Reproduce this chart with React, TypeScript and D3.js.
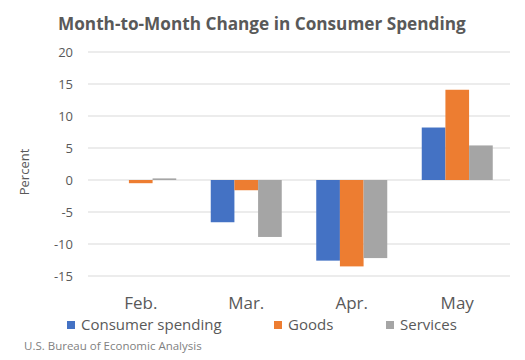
import React from "react";
import * as d3 from "d3";

const categories = ["Feb.", "Mar.", "Apr.", "May"];
const seriesNames = ["Consumer spending", "Goods", "Services"];
const consumerSpending = [0.0, -6.6, -12.6, 8.2];
const goods = [-0.5, -1.6, -13.5, 14.1];
const services = [0.25, -8.9, -12.2, 5.4];
const yTicks = [-15, -10, -5, 0, 5, 10, 15, 20];
const colors = ["#4472C4", "#ED7D31", "#A5A5A5"];

export default function App() {
  const W = 525, H = 360;
  const left = 88, right = 510, top = 52, bottom = 276;
  const y = d3.scaleLinear().domain([-15, 20]).range([bottom, top]);
  const x0 = d3.scaleBand<string>().domain(categories).range([left, right]).paddingInner(0.327).paddingOuter(0.1635);
  const x1 = d3.scaleBand<string>().domain(seriesNames).range([0, x0.bandwidth()]);
  const series = [consumerSpending, goods, services];
  const font = "'Open Sans', 'Liberation Sans', sans-serif";
  const textColor = "#595959";
  const legendX = [67, 274, 386];
  return (
    <svg width={W} height={H} style={{ position: "absolute", left: 0, top: 0, background: "#fff" }} fontFamily={font}>
      <rect width={W} height={H} fill="#fff" />
      <text x={58} y={30} fontSize={17.2} fontWeight="bold" fill={textColor}>
        Month-to-Month Change in Consumer Spending
      </text>
      {yTicks.map((t) => (
        <g key={t}>
          <line x1={left} x2={right} y1={y(t)} y2={y(t)} stroke="#d9d9d9" strokeWidth={1} />
          <text x={73} y={y(t)} dy="0.35em" textAnchor="end" fontSize={13} fill={textColor}>
            {t}
          </text>
        </g>
      ))}
      <text transform={`translate(29,${(top + bottom) / 2 + 8}) rotate(-90)`} textAnchor="middle" fontSize={13} fill={textColor}>
        Percent
      </text>
      {categories.map((c, i) => (
        <g key={c} transform={`translate(${x0(c)},0)`}>
          {series.map((s, j) => {
            const v = s[i];
            const y0 = y(0), yv = y(v);
            return (
              <rect key={j} x={x1(seriesNames[j])} width={x1.bandwidth()} y={Math.min(y0, yv)} height={Math.abs(yv - y0)} fill={colors[j]} />
            );
          })}
        </g>
      ))}
      {categories.map((c) => (
        <text key={c} x={(x0(c) as number) + x0.bandwidth() / 2} y={303} dy="0.35em" textAnchor="middle" fontSize={17} fill={textColor}>
          {c}
        </text>
      ))}
      {seriesNames.map((n, j) => (
        <g key={n}>
          <rect x={legendX[j]} y={321} width={8} height={8} fill={colors[j]} />
          <text x={legendX[j] + 14} y={325} dy="0.35em" fontSize={15} fill={textColor}>
            {n}
          </text>
        </g>
      ))}
      <text x={24} y={346} dy="0.35em" fontSize={11.5} fill="#7f7f7f">
        U.S. Bureau of Economic Analysis
      </text>
    </svg>
  );
}
